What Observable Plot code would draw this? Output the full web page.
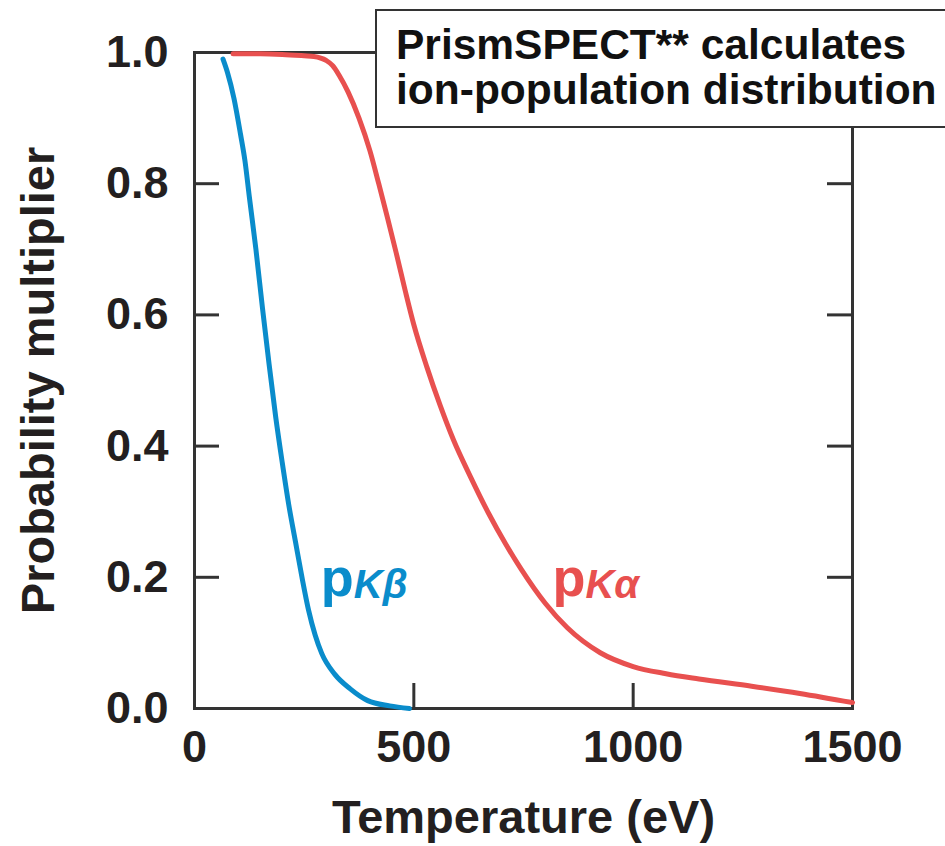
<!DOCTYPE html>
<html>
<head>
<meta charset="utf-8">
<script src="https://cdn.jsdelivr.net/npm/d3@7"></script>
<script src="https://cdn.jsdelivr.net/npm/@observablehq/plot@0.6"></script>
<style>
  html, body { margin: 0; padding: 0; background: white; }
  #wrap { position: relative; width: 945px; height: 846px; overflow: hidden; }
  #legend {
    position: absolute; left: 375px; top: 9px; width: 600px; height: 119px;
    border: 2.5px solid #333; background: white;
    font-family: "Liberation Sans", Arial, sans-serif; font-weight: bold;
    font-size: 42.5px; line-height: 45px; color: #111;
    padding: 11px 0 0 19px; box-sizing: border-box; white-space: nowrap;
  }
</style>
</head>
<body>
<div id="wrap"><div id="chart"></div><div id="legend"></div></div>
<script>
// ---- data ----
const xTicks = [0, 500, 1000, 1500];
const yTicks = [0, 0.2, 0.4, 0.6, 0.8, 1.0];
const xLabel = "Temperature (eV)";
const yLabel = "Probability multiplier";
const legendLines = ["PrismSPECT** calculates", "ion-population distribution"];

// p_Kbeta (blue)
const kbT = [65, 75, 90, 105, 115, 125, 140, 155, 170, 185, 200, 215, 230, 245, 260, 275, 290, 320, 355, 395, 445, 490];
const kbP = [0.99, 0.97, 0.93, 0.875, 0.835, 0.78, 0.70, 0.61, 0.525, 0.445, 0.375, 0.31, 0.255, 0.20, 0.15, 0.112, 0.084, 0.052, 0.030, 0.012, 0.004, 0.0];

// p_Kalpha (red)
const kaT = [88, 150, 200, 250, 272, 300, 315, 330, 350, 375, 400, 420, 440, 460, 480, 500, 530, 560, 590, 630, 670, 710, 745, 800, 850, 925, 1000, 1075, 1150, 1270, 1380, 1500];
const kaP = [0.998, 0.998, 0.997, 0.995, 0.994, 0.988, 0.98, 0.965, 0.94, 0.90, 0.85, 0.80, 0.748, 0.694, 0.638, 0.585, 0.52, 0.462, 0.41, 0.352, 0.298, 0.25, 0.212, 0.16, 0.123, 0.085, 0.064, 0.053, 0.045, 0.034, 0.023, 0.009];

const seriesLabels = [
  {name: "p", sub: "Kβ", T: 288, p: 0.198, color: "#0a8ccb"},
  {name: "p", sub: "Kα", T: 816, p: 0.198, color: "#e8504f"}
];

const blue = "#0a8ccb", red = "#e8504f", ink = "#231f20";
const kb = kbT.map((t, i) => ({T: t, p: kbP[i]}));
const ka = kaT.map((t, i) => ({T: t, p: kaP[i]}));

const frameW = 945 - 194 - 93, frameH = 846 - 52 - 138, tl = 25;
const font = "'Liberation Sans', Arial, sans-serif";

const chart = Plot.plot({
  width: 945, height: 846,
  marginLeft: 194, marginRight: 93, marginTop: 52, marginBottom: 138,
  x: {domain: [0, 1500]},
  y: {domain: [0, 1]},
  style: {fontFamily: font, fontWeight: "bold", color: ink, background: "white", overflow: "visible"},
  marks: [
    Plot.axisX(xTicks, {tickSize: 0, tickPadding: 22, fontSize: 45, fontWeight: "bold", tickFormat: d => String(d), label: null}),
    Plot.axisY(yTicks, {tickSize: 0, tickPadding: 26, fontSize: 45, fontWeight: "bold", tickFormat: d3.format(".1f"), label: null}),
    Plot.text([xLabel], {text: d => d, frameAnchor: "bottom", lineAnchor: "bottom", dy: 124, fontSize: 47, fontWeight: "bold", fill: ink}),
    Plot.text([yLabel], {text: d => d, frameAnchor: "left", textAnchor: "middle", lineAnchor: "top", rotate: -90, dx: -174, fontSize: 47, fontWeight: "bold", fill: ink}),
    Plot.tickX(xTicks, {x: d => d, insetTop: frameH - tl, stroke: "#333", strokeWidth: 3}),
    Plot.tickX(xTicks, {x: d => d, insetBottom: frameH - tl, stroke: "#333", strokeWidth: 3}),
    Plot.tickY(yTicks, {y: d => d, insetRight: frameW - tl, stroke: "#333", strokeWidth: 3}),
    Plot.tickY(yTicks, {y: d => d, insetLeft: frameW - tl, stroke: "#333", strokeWidth: 3}),
    Plot.frame({stroke: "#333", strokeWidth: 3}),
    Plot.line(kb, {x: "T", y: "p", stroke: blue, strokeWidth: 5, curve: "monotone-x"}),
    Plot.line(ka, {x: "T", y: "p", stroke: red, strokeWidth: 5, curve: "monotone-x"}),
    Plot.text(seriesLabels, {x: "T", y: "p", text: "name", fill: "color", fontSize: 54, fontWeight: "bold", textAnchor: "start"}),
    Plot.text(seriesLabels, {x: "T", y: "p", text: "sub", fill: "color", fontSize: 40, fontWeight: "bold", fontStyle: "italic", textAnchor: "start", dx: 33, dy: 7})
  ]
});
document.getElementById("chart").append(chart);
const lg = document.getElementById("legend");
legendLines.forEach(s => { const d = document.createElement("div"); d.textContent = s; lg.append(d); });
</script>
</body>
</html>
